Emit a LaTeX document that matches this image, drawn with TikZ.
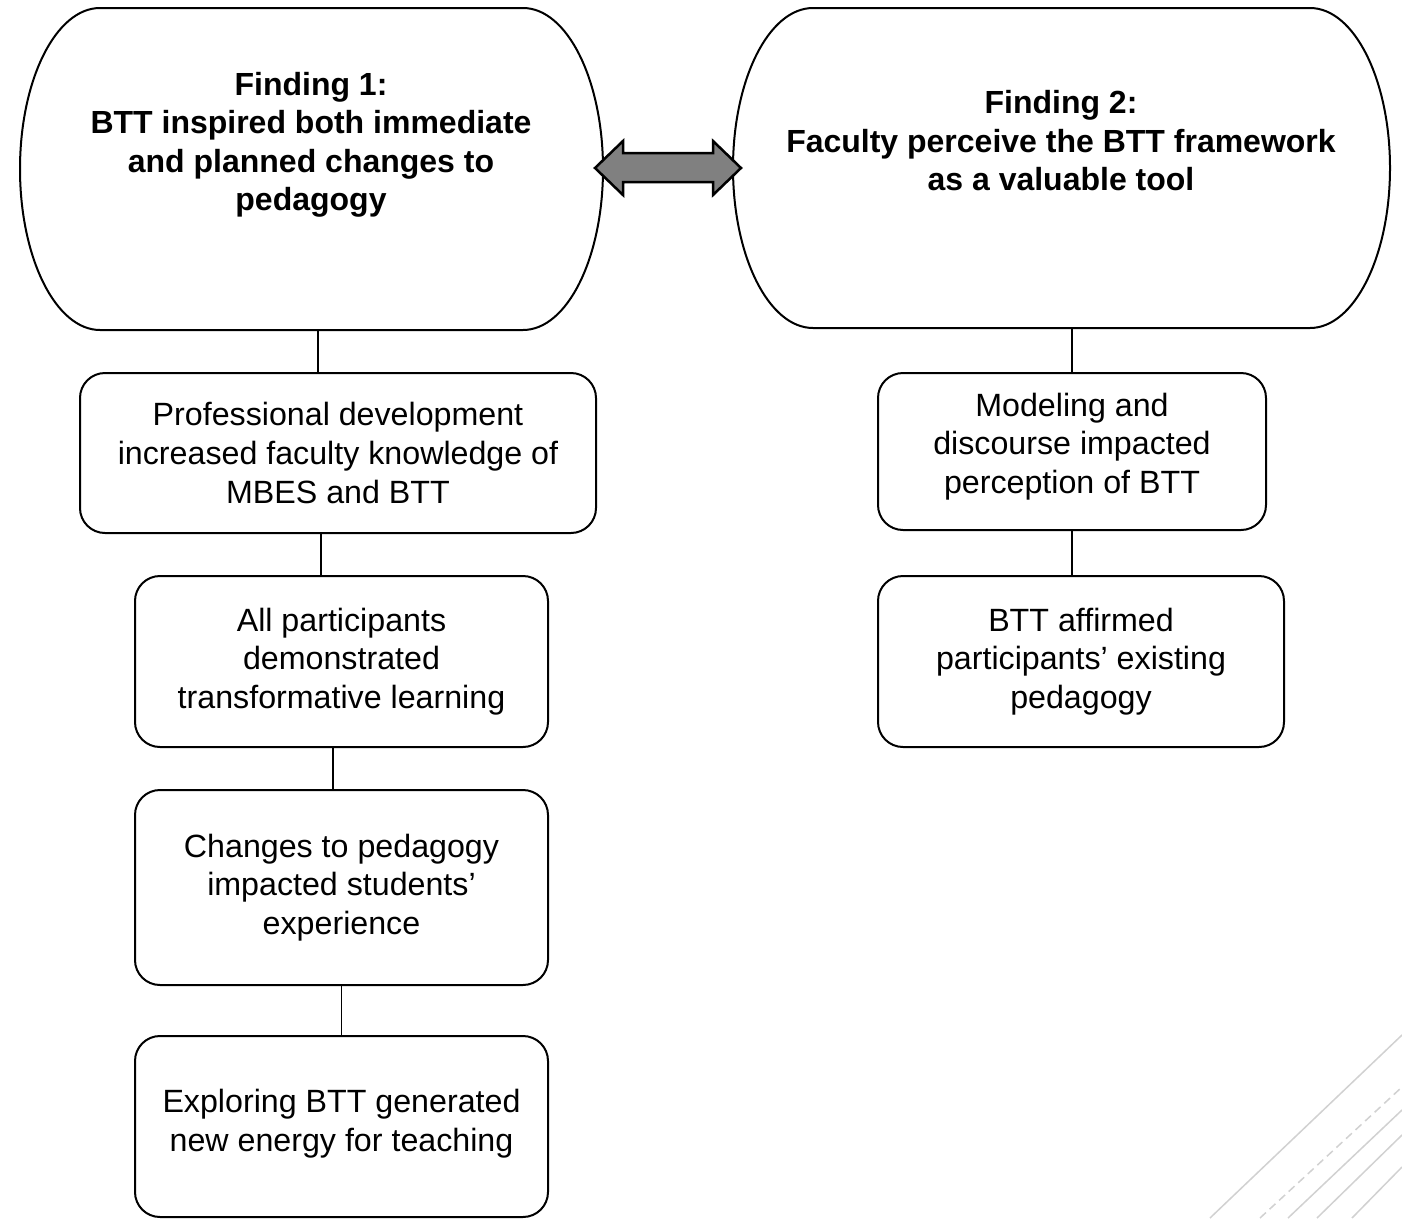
\documentclass[tikz,border=0pt]{standalone}
\usepackage{fontspec}
\setmainfont{Liberation Sans}
\begin{document}
\begin{tikzpicture}[x=1pt,y=-1pt,
  txt/.style={font=\fontsize{32.2}{38.6}\selectfont, align=center, inner sep=0pt},
  head/.style={txt, font=\fontsize{32}{38.5}\selectfont\bfseries},
  box/.style={txt, draw, line width=2pt, rounded corners=25pt},
  hull/.style={draw=none, minimum width=#1, inner sep=0pt},
  outline/.style={draw, line width=2pt},
  link/.style={draw, line width=1.6pt},
  deco/.style={draw=black!18, line width=1.5pt}]
\useasboundingbox (0,0) rectangle (1402,1218);
\clip (0,0) rectangle (1402,1218);

% decorative lines
\draw[deco] (1210,1218) -- (1402,1035);
\draw[deco, dash pattern=on 8pt off 5pt] (1260,1218) -- (1402,1087);
\draw[deco] (1288,1218) -- (1402,1110);
\draw[deco] (1317,1218) -- (1402,1135);
\draw[deco] (1352,1218) -- (1402,1167);

% finding shapes
\node[hull=583pt, minimum height=322pt] (f1) at (311.5,169) {};
\node[hull=657pt, minimum height=320pt] (f2) at (1061.5,168) {};
\draw[outline] (100,8) -- (523,8) .. controls (567.2,8) and (603,80.1) .. (603,169)
  .. controls (603,257.9) and (567.2,330) .. (523,330) -- (100,330)
  .. controls (55.8,330) and (20,257.9) .. (20,169)
  .. controls (20,80.1) and (55.8,8) .. (100,8) -- cycle;
\draw[outline] (813,8) -- (1310,8) .. controls (1354.2,8) and (1390,79.6) .. (1390,168)
  .. controls (1390,256.4) and (1354.2,328) .. (1310,328) -- (813,328)
  .. controls (768.8,328) and (733,256.4) .. (733,168)
  .. controls (733,79.6) and (768.8,8) .. (813,8) -- cycle;
\node[head] (t1) at (311,145) {Finding 1:\\BTT inspired both immediate\\and planned changes to\\pedagogy};
\node[head] (t2) at (1061,141) {Finding 2:\\Faculty perceive the BTT framework\\as a valuable tool};

% double arrow
\draw[line width=2.5pt, line join=miter, fill=black!50]
  (595,168) -- (623,141) -- (623,153) -- (713,153) -- (713,141) -- (741,168)
  -- (713,195) -- (713,182) -- (623,182) -- (623,195) -- cycle;

% left column
\node[box, minimum width=516pt, minimum height=160pt] (b1) at (338,453)
  {Professional development\\increased faculty knowledge of\\MBES and BTT};
\node[box, minimum width=413pt, minimum height=171pt] (b2) at (341.5,661.5)
  {All participants\\demonstrated\\transformative learning};
\node[box, minimum width=413pt, minimum height=195pt] (b3) at (341.5,887.5)
  {Changes to pedagogy\\impacted students’\\experience};
\node[box, minimum width=413pt, minimum height=181pt,
  label={[txt, yshift=3pt]center:{Exploring BTT generated\\new energy for teaching}}] (b4) at (341.5,1126.5) {};

% right column
\node[box, minimum width=388pt, minimum height=157pt,
  label={[txt, yshift=5pt]center:{Modeling and\\discourse impacted\\perception of BTT}}] (r1) at (1072,451.5) {};
\node[box, minimum width=406pt, minimum height=171pt] (r2) at (1081,661.5)
  {BTT affirmed\\participants’ existing\\pedagogy};

% connectors
\draw[link] ([xshift=6.5pt]f1.south) -- ([xshift=6.5pt]f1.south |- b1.north);
\draw[link] ([xshift=-17pt]b1.south) -- ([xshift=-17pt]b1.south |- b2.north);
\draw[link] ([xshift=-8.5pt]b2.south) -- ([xshift=-8.5pt]b2.south |- b3.north);
\draw[link] (b3.south) -- (b4.north);
\draw[link] ([xshift=10.5pt]f2.south) -- ([xshift=10.5pt]f2.south |- r1.north);
\draw[link] (r1.south) -- (r1.south |- r2.north);
\end{tikzpicture}
\end{document}
